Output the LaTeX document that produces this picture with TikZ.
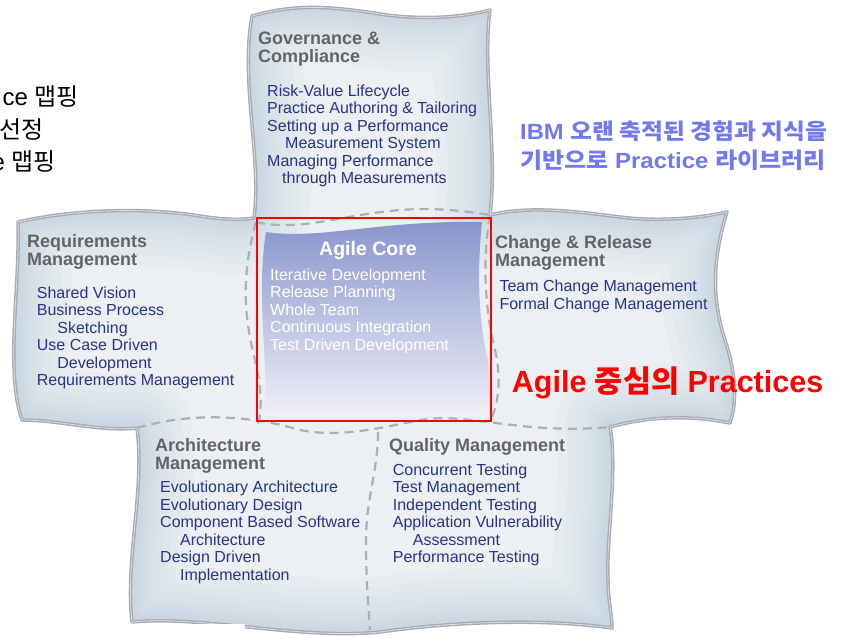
\documentclass[tikz,border=0pt]{standalone}
\usepackage{fontspec}
\usepackage{graphicx}
\setmainfont{Liberation Sans}
\newfontfamily\kr{Noto Sans CJK KR}
\definecolor{headgray}{RGB}{100,100,100}
\definecolor{itemblue}{RGB}{40,52,140}
\definecolor{ibmblue}{RGB}{112,122,238}
\definecolor{edgegray}{RGB}{168,170,180}
\definecolor{dashgray}{RGB}{172,176,186}
\definecolor{pieceface}{RGB}{236,240,243}
\definecolor{pieceedge}{RGB}{150,178,200}
\definecolor{agiletop}{RGB}{135,149,204}
\definecolor{agilemid}{RGB}{160,170,216}
\definecolor{agilebot}{RGB}{240,240,248}
\newcommand\OutlinePathX{(252,16) .. controls (300,2) and (340,8) .. (380,14) .. controls (420,20) and (460,18) .. (490,10) .. controls (482,70) and (498,150) .. (490,215) .. controls (530,205) and (580,212) .. (620,217) .. controls (660,222) and (700,218) .. (727,212) .. controls (712,260) and (712,300) .. (725,340) .. controls (735,370) and (738,400) .. (730,423) .. controls (690,415) and (650,416) .. (610,427) .. controls (618,470) and (606,540) .. (608,580) .. controls (608,600) and (612,615) .. (612,628) .. controls (540,618) and (450,622) .. (380,632) .. controls (300,640) and (200,615) .. (132,622) .. controls (125,560) and (145,490) .. (137,428) .. controls (100,432) and (60,420) .. (22,420) .. controls (5,370) and (20,290) .. (18,222) .. controls (80,208) and (150,208) .. (200,216) .. controls (225,220) and (240,220) .. (254,218) .. controls (262,160) and (240,80) .. (252,16) -- cycle}
\tikzset{
  head/.style={anchor=base west, inner sep=0pt, align=left, text=headgray, font=\bfseries\fontsize{18}{18}\selectfont},
  item/.style={anchor=base west, inner sep=0pt, align=left, text=itemblue, font=\fontsize{16}{17.5}\selectfont},
  coreitem/.style={anchor=base west, inner sep=0pt, align=left, text=white, font=\fontsize{16}{17.5}\selectfont},
  seam/.style={draw=dashgray, line width=2.2pt, dash pattern=on 9pt off 6pt},
  sidetext/.style={anchor=base east, inner sep=0pt, text=black, font=\fontsize{24}{31}\selectfont},
  edgeband/.style={pieceedge, opacity=0.05, line join=round}
}
\begin{document}
\begin{tikzpicture}[x=1pt,y=-1pt]
\useasboundingbox (0,0) rectangle (843,637);
\fill[white] (0,0) rectangle (843,637);
% puzzle body
\fill[pieceface] \OutlinePathX;
\begin{scope}
  \clip \OutlinePathX;
  \foreach \w in {110,90,72,56,42,30,20,12}
    \draw[edgeband, line width=\w pt] \OutlinePathX;
\end{scope}
% agile core fill
\shade[top color=agiletop, middle color=agilemid, bottom color=agilebot]
  (266,232) .. controls (320,240) and (380,220) .. (482,222)
  .. controls (476,280) and (480,330) .. (488,360)
  .. controls (492,390) and (490,405) .. (484,416)
  -- (264,416) .. controls (270,370) and (255,300) .. (266,232) -- cycle;
% seams
\draw[seam] (256,222) .. controls (300,232) and (340,215) .. (400,210) .. controls (440,207) and (470,212) .. (490,215);
\draw[seam] (256,222) .. controls (240,280) and (245,320) .. (255,360) .. controls (262,390) and (262,410) .. (258,424);
\draw[seam] (490,215) .. controls (482,260) and (485,310) .. (495,350) .. controls (502,380) and (498,405) .. (490,422);
\draw[seam] (137,428) .. controls (190,412) and (250,415) .. (300,430) .. controls (340,438) and (380,428) .. (420,420) .. controls (470,412) and (520,435) .. (610,427);
\draw[seam] (378,432) .. controls (378,470) and (366,500) .. (366,540) .. controls (366,580) and (368,600) .. (370,630);
% outline
\draw[edgegray, line width=3.5pt, line join=round] \OutlinePathX;
\draw[white, opacity=0.6, line width=0.8pt, line join=round] \OutlinePathX;
% white patch at bottom left
\fill[white] (100,624) rectangle (245,637);
% red frame
\draw[red, line width=2pt] (257,218) rectangle (491,421);
% texts
\node[sidetext] (s1) at (79,105.5) {ce {\kr 맵핑}};
\node[sidetext] (s2) at (44,138) {{\kr 선정}};
\node[sidetext] (s3) at (56,170.5) {e {\kr 맵핑}};
\node[head] (govh) at (258,62.7) {Governance \&\\Compliance};
\node[item] (govi) at (267,183.5) {Risk-Value Lifecycle\\Practice Authoring \& Tailoring\\Setting up a Performance\\\hspace*{18pt}Measurement System\\Managing Performance\\\hspace*{15pt}through Measurements};
\node[head] (reqh) at (27,265.7) {Requirements\\Management};
\node[item] (reqi) at (36.7,385.8) {Shared Vision\\Business Process\\\hspace*{20.5pt}Sketching\\Use Case Driven\\\hspace*{20.5pt}Development\\Requirements Management};
\node[anchor=base, inner sep=0pt, text=white, font=\bfseries\fontsize{19.5}{20}\selectfont] (coreh) at (368,255) {Agile Core};
\node[coreitem] (corei) at (270,350) {Iterative Development\\Release Planning\\Whole Team\\Continuous Integration\\Test Driven Development};
\node[head] (chgh) at (495,266.7) {Change \& Release\\Management};
\node[item] (chgi) at (499.3,309.2) {Team Change Management\\Formal Change Management};
\node[head] (arch) at (155,469) {Architecture\\Management};
\node[item] (archi) at (160,580.2) {Evolutionary Architecture\\Evolutionary Design\\Component Based Software\\\hspace*{20pt}Architecture\\Design Driven\\\hspace*{20pt}Implementation};
\node[head] (qualh) at (389,451.7) {Quality Management};
\node[item] (quali) at (392.7,562.5) {Concurrent Testing\\Test Management\\Independent Testing\\Application Vulnerability\\\hspace*{20pt}Assessment\\Performance Testing};
\node[anchor=base west, inner sep=0pt, text=red, font=\bfseries\fontsize{30.5}{31}\selectfont] (agilep) at (511.7,392.7) {Agile {\kr 중심의} Practices};
\node[anchor=base west, inner sep=0pt, align=left, text=ibmblue, font=\bfseries\fontsize{22}{29}\selectfont] (ibm) at (520,168.3) {\scalebox{1.08}[1]{IBM {\kr 오랜 축적된 경험과 지식을}}\\\scalebox{1.09}[1]{{\kr 기반으로} Practice {\kr 라이브러리}}};
\end{tikzpicture}
\end{document}
